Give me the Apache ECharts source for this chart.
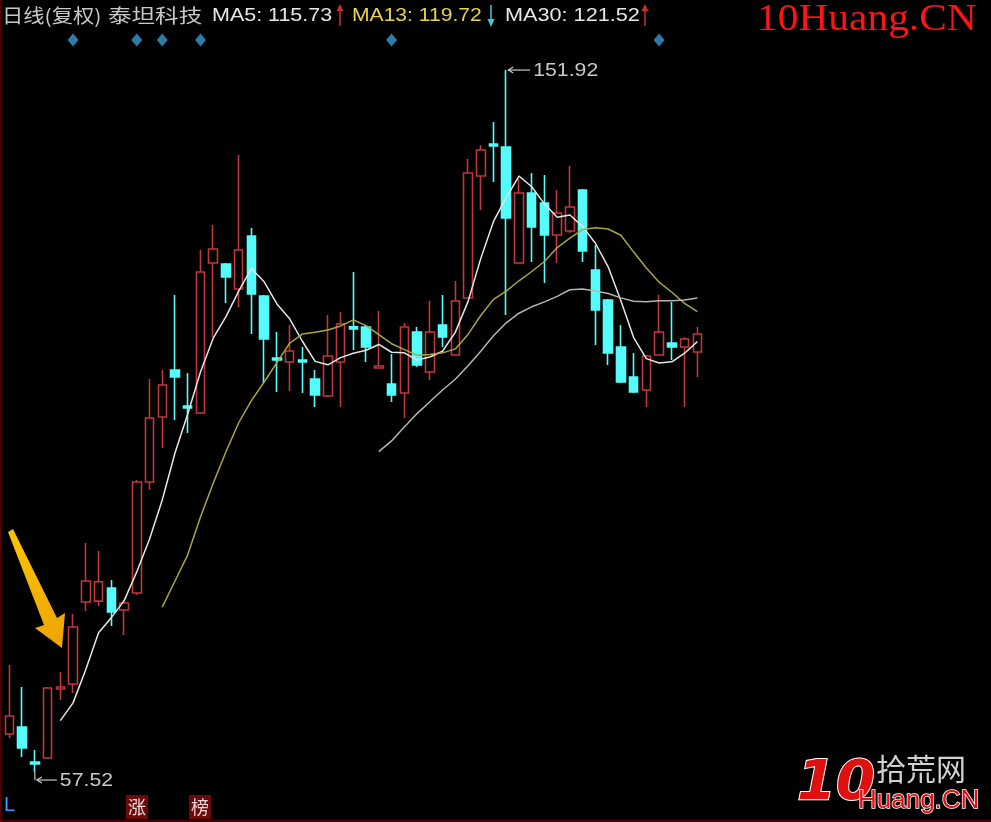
<!DOCTYPE html>
<html><head><meta charset="utf-8">
<script src="https://cdn.jsdelivr.net/npm/echarts@6/dist/echarts.min.js"></script>
<style>html,body{margin:0;padding:0;background:#000;}#c{width:991px;height:822px;}</style>
</head><body><div id="c"></div>
<script>
// ---- data ----
const days = ['1','2','3','4','5','6','7','8','9','10','11','12','13','14','15','16','17','18','19','20','21','22','23','24','25','26','27','28','29','30','31','32','33','34','35','36','37','38','39','40','41','42','43','44','45','46','47','48','49','50','51','52','53','54','55'];
const opens = [62.63,63.57,58.86,59.40,68.68,69.35,80.38,80.50,82.26,79.31,81.59,96.52,105.26,111.58,106.74,105.80,125.97,125.84,122.47,129.60,121.53,113.19,112.66,112.93,110.37,108.08,112.66,117.40,117.36,111.85,109.70,108.49,116.69,111.31,117.63,113.60,121.26,137.67,141.97,141.57,125.97,135.38,134.04,129.74,130.27,135.79,125.03,120.99,114.67,110.64,108.89,113.60,115.21,114.67,114.00];
const closes = [65.05,60.75,58.60,68.82,68.95,77.02,83.21,83.10,79.04,80.25,96.52,105.13,109.56,110.64,106.47,124.76,127.85,124.09,127.72,121.80,115.75,112.93,114.14,112.66,108.22,113.46,117.77,117.09,114.67,112.12,108.22,117.36,112.25,116.69,116.02,120.86,138.07,141.17,141.70,132.02,135.38,130.81,129.74,132.69,133.50,127.58,119.65,113.87,109.97,108.62,113.46,116.69,114.67,115.75,116.42];
const lows = [62.09,59.54,57.52,59.27,67.20,68.14,79.17,79.84,77.15,75.94,81.32,95.44,101.09,104.86,103.11,105.66,116.02,120.59,120.05,116.42,109.83,108.62,108.76,108.49,106.61,107.95,106.61,114.27,112.66,111.85,107.28,105.13,111.98,110.24,114.67,113.60,121.26,133.10,136.86,118.98,125.97,126.10,123.28,125.97,130.00,126.10,114.94,112.25,109.83,108.49,106.61,113.50,112.93,106.61,110.64];
const highs = [71.91,68.95,60.48,68.95,70.97,78.77,88.32,87.24,83.34,80.65,96.79,110.37,111.58,121.67,111.18,127.72,131.08,125.97,140.49,130.68,121.67,116.69,117.63,114.67,111.58,118.98,119.38,124.76,117.63,119.52,113.73,117.90,117.36,120.86,121.67,123.55,139.96,141.84,144.93,151.92,137.27,138.07,137.80,135.79,139.01,135.92,128.39,121.13,117.63,113.87,113.60,121.67,120.73,116.02,117.36];
const ma5 = ['-','-','-','-',64.43,66.82,71.32,76.24,78.28,80.54,84.44,88.83,94.10,100.42,105.66,111.31,115.86,118.76,122.18,125.24,123.44,120.46,118.47,115.45,112.74,112.28,113.25,113.84,114.24,115.02,113.97,113.89,112.93,113.33,114.11,116.64,120.78,126.56,131.56,134.77,137.67,136.22,133.93,132.13,132.43,130.87,128.63,125.46,120.91,115.94,113.11,112.52,112.68,113.84,115.40];
const ma13 = ['-','-','-','-','-','-','-','-','-','-','-','-',79.70,83.21,86.73,91.81,96.36,100.59,104.49,107.47,109.97,112.58,115.18,116.42,116.66,116.96,117.51,118.33,117.55,116.34,115.12,114.32,113.58,113.67,113.89,114.42,116.37,118.91,121.08,122.18,123.58,124.83,126.17,128.05,129.31,130.48,130.70,130.54,129.71,127.44,125.31,123.39,122.04,120.54,119.43];
const ma30 = ['-','-','-','-','-','-','-','-','-','-','-','-','-','-','-','-','-','-','-','-','-','-','-','-','-','-','-','-','-',100.61,102.05,103.93,105.72,107.32,108.89,110.34,112.17,114.11,116.19,117.93,119.22,120.08,120.75,121.48,122.38,122.47,122.20,121.87,121.28,120.83,120.75,120.89,120.90,121.01,121.28];
const eventDays = [5,10,12,15,30,51];           // indices of days with a blue diamond marker
const headerTexts = ['日线(复权)','泰坦科技','MA5: 115.73','MA13: 119.72','MA30: 121.52'];

// ---- chart ----
const chart = echarts.init(document.getElementById('c'), null, {renderer:'canvas'});
const kdata = opens.map((o,i)=>[o, closes[i], lows[i], highs[i]]);
const RED = '#c03838', CYAN = '#54fcfc';
chart.setOption({
  backgroundColor:'#000000',
  animation:false,
  grid:[{left:3, right:287.3, top:0, bottom:0},{left:3, right:287.3, top:30, height:20}],
  xAxis:[
    {type:'category', data:days, gridIndex:0, boundaryGap:true, show:false},
    {type:'category', data:days, gridIndex:1, boundaryGap:true, show:false}
  ],
  yAxis:[
    {type:'value', gridIndex:0, min:50.80, max:161.34, show:false, splitLine:{show:false}},
    {type:'value', gridIndex:1, min:-1, max:1, show:false, splitLine:{show:false}}
  ],
  series:[
    {type:'candlestick', data:kdata, barWidth:9,
     itemStyle:{color:'#000000', color0:CYAN, borderColor:RED, borderColor0:CYAN, borderWidth:1.6}},
    {type:'line', data:ma5, symbol:'none', lineStyle:{color:'#e6e6e6', width:1.5}},
    {type:'line', data:ma13, symbol:'none', lineStyle:{color:'#aca444', width:1.5}},
    {type:'line', data:ma30, symbol:'none', lineStyle:{color:'#b4b4b4', width:1.5}},
    {type:'scatter', xAxisIndex:1, yAxisIndex:1, data:eventDays.map(d=>[d,0]), symbol:'diamond', symbolSize:[11,13],
     itemStyle:{color:'#3a9ad2'}}
  ]
});

// extreme markers positioned through the chart's own scales
const hiVal = Math.max(...highs), hiIdx = highs.indexOf(hiVal);
const loVal = Math.min(...lows), loIdx = lows.indexOf(loVal);
const ph = chart.convertToPixel({seriesIndex:0}, [hiIdx, hiVal]);
const pl = chart.convertToPixel({seriesIndex:0}, [loIdx, loVal]);
const G = '#c8c8c8';
const lbl = (x,y,t) => ({type:'text', x:x, y:y, scaleX:1.18, style:{text:t, fill:G, font:'18px "Liberation Sans"', textVerticalAlign:'middle'}});
const arrowL = (x,y) => ({type:'polyline', shape:{points:[[x+6,y-3],[x+1,y],[x+6,y+3]]}, style:{stroke:G, lineWidth:1.2, fill:null}});
const gfx = [
  // high marker
  {type:'line', shape:{x1:ph[0]+2, y1:ph[1], x2:ph[0]+24, y2:ph[1]}, style:{stroke:G, lineWidth:1.2}},
  arrowL(ph[0]+1, ph[1]), lbl(ph[0]+27, ph[1]+1, hiVal.toFixed(2)),
  // low marker
  {type:'line', shape:{x1:pl[0], y1:pl[1], x2:pl[0], y2:pl[1]+8}, style:{stroke:G, lineWidth:1.2}},
  {type:'line', shape:{x1:pl[0]+2, y1:pl[1]+8, x2:pl[0]+22, y2:pl[1]+8}, style:{stroke:G, lineWidth:1.2}},
  arrowL(pl[0]+1, pl[1]+8), lbl(pl[0]+25, pl[1]+9, loVal.toFixed(2)),
  // header
  {type:'text', x:2, y:16, scaleX:1.12, style:{text:headerTexts[0], fill:'#c8c8c8', font:'19px "Noto Sans CJK SC"', textVerticalAlign:'middle'}},
  {type:'text', x:108, y:16, scaleX:1.24, style:{text:headerTexts[1], fill:'#c8c8c8', font:'19px "Noto Sans CJK SC"', textVerticalAlign:'middle'}},
  {type:'text', x:212, y:16, scaleX:1.13, style:{text:headerTexts[2], fill:'#e6e6e6', font:'19px "Liberation Sans"', textVerticalAlign:'middle'}},
  {type:'text', x:352, y:16, scaleX:1.11, style:{text:headerTexts[3], fill:'#e8d44a', font:'19px "Liberation Sans"', textVerticalAlign:'middle'}},
  {type:'text', x:505, y:16, scaleX:1.14, style:{text:headerTexts[4], fill:'#e6e6e6', font:'19px "Liberation Sans"', textVerticalAlign:'middle'}},
  {type:'line', shape:{x1:340,y1:6,x2:340,y2:26}, style:{stroke:'#c83030', lineWidth:1.5}},
  {type:'polygon', shape:{points:[[336.5,11],[340,4],[343.5,11]]}, style:{fill:'#c83030'}},
  {type:'line', shape:{x1:491,y1:5,x2:491,y2:24}, style:{stroke:'#40c8d8', lineWidth:1.5}},
  {type:'polygon', shape:{points:[[487.5,19],[491,27],[494.5,19]]}, style:{fill:'#40c8d8'}},
  {type:'line', shape:{x1:645,y1:6,x2:645,y2:26}, style:{stroke:'#c83030', lineWidth:1.5}},
  {type:'polygon', shape:{points:[[641.5,11],[645,4],[648.5,11]]}, style:{fill:'#c83030'}},
  // watermark top right
  {type:'text', x:757, y:20, scaleX:1.09, style:{text:'10Huang.CN', fill:'#ff1414', font:'38px "Liberation Serif"', textVerticalAlign:'middle'}},
  // yellow arrow
  {type:'polygon', shape:{points:[[8,532],[13,529],[57,618],[65,613],[62,648],[35,628],[44,625]]},
   style:{fill:new echarts.graphic.LinearGradient(0,0,1,1,[{offset:0,color:'#fac400'},{offset:1,color:'#eea400'}])}},
  // bottom left labels
  {type:'text', x:4, y:805, style:{text:'L', fill:'#3d9bff', font:'20px "Liberation Sans"', textVerticalAlign:'middle'}},
  {type:'rect', shape:{x:126,y:795,width:22,height:24}, style:{fill:'#6a0a0a'}},
  {type:'text', x:128, y:807, style:{text:'涨', fill:'#f0d8d8', font:'18px "Noto Sans CJK SC"', textVerticalAlign:'middle'}},
  {type:'rect', shape:{x:189,y:795,width:22,height:24}, style:{fill:'#6a0a0a'}},
  {type:'text', x:191, y:807, style:{text:'榜', fill:'#f0d8d8', font:'18px "Noto Sans CJK SC"', textVerticalAlign:'middle'}},
  // bottom right logo
  {type:'text', x:797, y:784, style:{text:'10', fill:'#e01010', stroke:'#ffffff', lineWidth:2, font:'italic bold 56px "DejaVu Sans"', textVerticalAlign:'middle'}},
  {type:'text', x:876, y:769, style:{text:'拾荒网', fill:'#d0d0d0', font:'30px "Noto Sans CJK SC"', textVerticalAlign:'middle'}},
  {type:'text', x:858, y:801, style:{text:'Huang.CN', fill:'#e01010', stroke:'#ffffff', lineWidth:1.5, font:'26px "Liberation Sans"', textVerticalAlign:'middle'}},
  // frame lines
  {type:'line', shape:{x1:0.5,y1:0,x2:0.5,y2:822}, style:{stroke:'#5a0000', lineWidth:1}},
  {type:'line', shape:{x1:0,y1:820.5,x2:991,y2:820.5}, style:{stroke:'#5a0000', lineWidth:1}}
];
chart.setOption({graphic:gfx});
</script></body></html>
